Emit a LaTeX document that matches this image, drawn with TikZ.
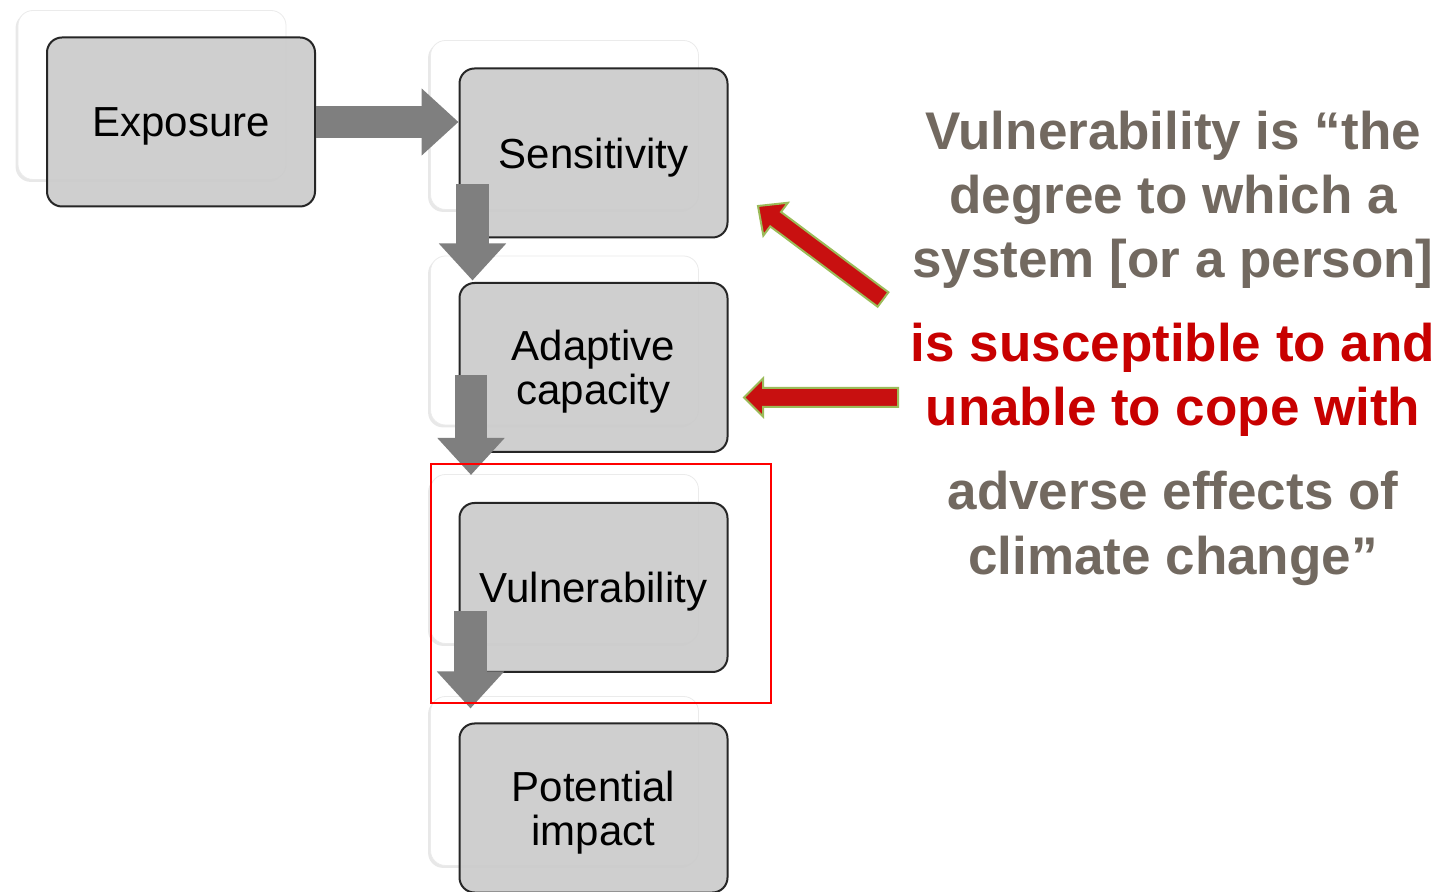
\documentclass[tikz,border=0pt]{standalone}
\usepackage{fontspec}
\setmainfont{Liberation Sans}
\usetikzlibrary{arrows.meta,calc,shadows}
\definecolor{boxgray}{RGB}{203,203,203}
\definecolor{arrgray}{RGB}{127,127,127}
\definecolor{txtgray}{RGB}{114,105,96}
\definecolor{txtred}{RGB}{200,0,0}
\definecolor{arrred}{RGB}{200,16,16}
\definecolor{arrgreen}{RGB}{155,187,89}
\tikzset{
  backbox/.style={rectangle, rounded corners=7.5pt, fill=white, draw=black!8, line width=0.4pt,
    minimum width=134pt, minimum height=84.5pt, inner sep=0pt,
    drop shadow={shadow xshift=-1.2pt, shadow yshift=-1.2pt, opacity=0.18}},
  frontbox/.style={rectangle, rounded corners=7.5pt, fill=boxgray, fill opacity=0.92, text opacity=1,
    draw=black!85, line width=1pt, minimum width=134pt, minimum height=84.5pt, inner sep=0pt,
    align=center, text depth=0pt, font=\fontsize{21}{22}\selectfont},
  garrow/.style={draw=arrgray, line width=16.3pt, -{Triangle[length=18.5pt, width=32.5pt]}},
  redarrow/.style={fill=arrred, draw=arrgreen, line width=1pt, line join=miter},
  gtxt/.style={anchor=base, text=txtgray, font=\fontsize{26.5}{32}\selectfont\bfseries, inner sep=0pt},
  rtxt/.style={anchor=base, text=txtred, font=\fontsize{26.5}{32}\selectfont\bfseries, inner sep=0pt},
}
\begin{document}
\begin{tikzpicture}[x=0.5pt, y=-0.5pt]
\useasboundingbox[fill=white] (0,0) rectangle (1441,892);

% back boxes
\node[backbox] (eb) at (152,95) {};
\node[backbox] (sb) at (564.5,125) {};
\node[backbox] (ab) at (564.5,340.5) {};
\node[backbox] (vb) at (564.5,559) {};
\node[backbox] (pb) at (564.5,781) {};

% front boxes
\node[frontbox] (e) at (181,122) {Exposure};
\node[frontbox] (s) at (593.5,153) {Sensitivity};
\node[frontbox] (a) at (593.5,367.5) {Adaptive\\capacity};
\node[frontbox] (v) at (593.5,587.5) {Vulnerability};
\node[frontbox] (p) at (593.5,808) {Potential\\impact};

% gray block arrows
\draw[garrow] (e.east) -- (e.east -| s.west);
\draw[garrow] ($(s.south west)+(14,-54)$) -- ($(s.south west)+(14,42)$);
\draw[garrow] ($(a.south west)+(12.5,-78)$) -- ($(v.north west)+(12.5,-27)$);
\draw[garrow] ($(v.south west)+(12,-62)$) -- ($(p.north west)+(12,-14)$);

% red selection rectangle
\draw[red, line width=1pt] (431,464) rectangle (771,703);

% right text
\node[gtxt] (t1) at (1173,150) {Vulnerability is “the};
\node[gtxt] (t2) at (1173,214) {degree to which a};
\node[gtxt] (t3) at (1173,278) {system [or a person]};
\node[rtxt] (t4) at (1173,362) {is susceptible to and};
\node[rtxt] (t5) at (1173,426) {unable to cope with};
\node[gtxt] (t6) at (1173,510) {adverse effects of};
\node[gtxt] (t7) at (1173,575) {climate change”};

% red arrows
\coordinate (T1) at (758,206);
\coordinate (S1) at (883,299.5);
\coordinate (H1) at ($(T1)!11pt!(S1)$);
\draw[redarrow] (T1) -- ($(H1)!10.25pt!90:(S1)$) -- ($(H1)!4.5pt!90:(S1)$) -- ($(S1)!4.5pt!-90:(H1)$)
  -- ($(S1)!4.5pt!90:(H1)$) -- ($(H1)!4.5pt!-90:(S1)$) -- ($(H1)!10.25pt!-90:(S1)$) -- cycle;

\coordinate (T2) at (744,397.5);
\coordinate (S2) at (898,397.5);
\coordinate (H2) at ($(T2)!9.5pt!(S2)$);
\draw[redarrow] (T2) -- ($(H2)!9.5pt!90:(S2)$) -- ($(H2)!4.75pt!90:(S2)$) -- ($(S2)!4.75pt!-90:(H2)$)
  -- ($(S2)!4.75pt!90:(H2)$) -- ($(H2)!4.75pt!-90:(S2)$) -- ($(H2)!9.5pt!-90:(S2)$) -- cycle;
\end{tikzpicture}
\end{document}
